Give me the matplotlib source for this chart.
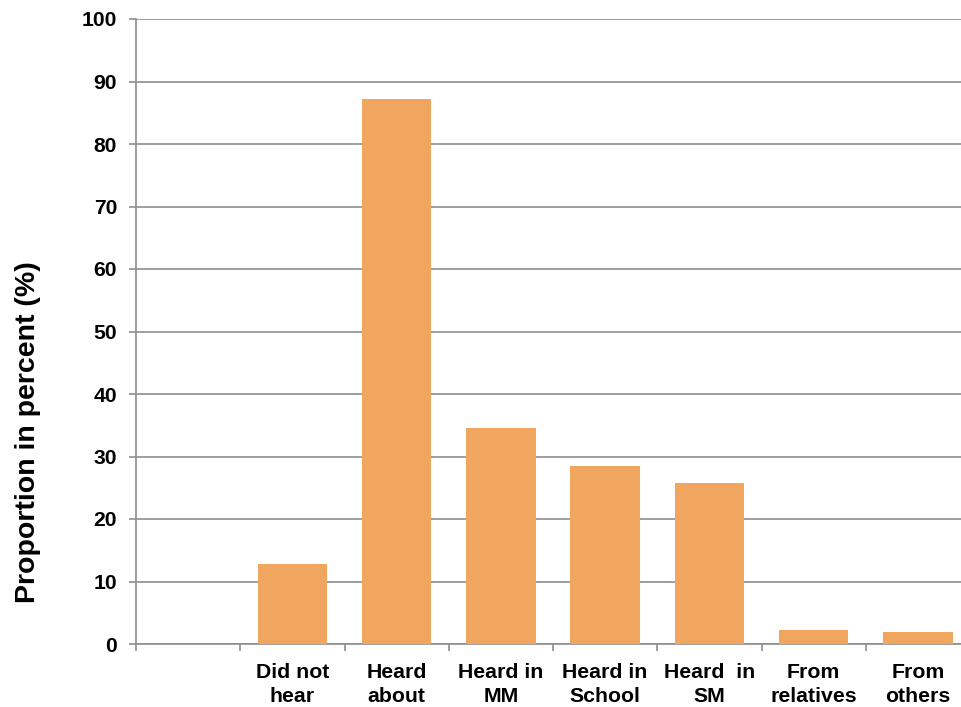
import matplotlib
matplotlib.use("Agg")
import matplotlib.pyplot as plt
import numpy as np

# Survey responses: where respondents heard about the topic
categories = ["", "Did not\nhear", "Heard\nabout", "Heard in\nMM", "Heard in\nSchool",
              "Heard  in\nSM", "From\nrelatives", "From\nothers"]
values = [np.nan, 12.8, 87.2, 34.6, 28.5, 25.8, 2.3, 2.0]
y_ticks = [0, 10, 20, 30, 40, 50, 60, 70, 80, 90, 100]

bar_color = "#F0A65E"
grid_color = "#8E8E8E"
font = "Liberation Sans"

fig = plt.figure(figsize=(9.61, 7.07), dpi=100)
ax = fig.add_axes([136 / 961, 1 - 644 / 707, (970 - 136) / 961, (644 - 19) / 707])

x = np.arange(len(categories))
ax.bar(x, values, width=0.667, color=bar_color, zorder=3)

ax.set_xlim(-0.5, len(categories) - 0.5)
ax.set_ylim(0, 100)

ax.set_yticks(y_ticks)
ax.set_yticklabels([str(t) for t in y_ticks], fontfamily=font, fontweight="bold", fontsize=15.2)
ax.yaxis.grid(True, color=grid_color, linewidth=1.2, zorder=0)
ax.tick_params(axis="y", direction="out", length=5, width=1.2, color=grid_color, pad=8.5)

# Tick marks at slot boundaries, labels at slot centres
ax.set_xticks(np.arange(-0.5, len(categories), 1.0))
ax.set_xticklabels([])
ax.set_xticks(x, minor=True)
ax.set_xticklabels(categories, minor=True, fontfamily=font, fontweight="bold",
                   fontsize=15.3, linespacing=1.3)
ax.tick_params(axis="x", which="major", direction="out", length=5, width=1.2, color=grid_color)
ax.tick_params(axis="x", which="minor", length=0, pad=14)

for side in ("top", "right"):
    ax.spines[side].set_visible(False)
for side in ("left", "bottom"):
    ax.spines[side].set_color(grid_color)
    ax.spines[side].set_linewidth(1.2)

fig.text(28 / 961, 1 - 432 / 707, "Proportion in percent (%)", rotation=90,
         ha="center", va="center", fontfamily=font, fontweight="bold", fontsize=20.5)

fig.savefig("out.png", dpi=100)
